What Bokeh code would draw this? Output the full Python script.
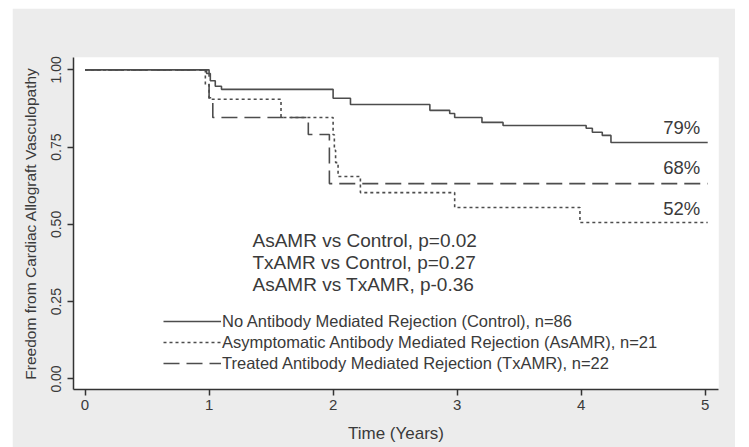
from bokeh.plotting import figure
from bokeh.models import FixedTicker, Legend, LegendItem, Range1d, Spacer
from bokeh.layouts import column, row
from bokeh.embed import file_html
from bokeh.resources import INLINE
from bokeh.core.properties import value

# ---------------- data ----------------
x_ticks = [0, 1, 2, 3, 4, 5]
y_ticks = [0.0, 0.25, 0.5, 0.75, 1.0]
y_tick_labels = ["0.00", "0.25", "0.50", "0.75", "1.00"]

control_t = [0, 0.98, 1.01, 1.05, 1.10, 2.00, 2.14, 2.78, 2.94, 2.98, 3.20, 3.37, 4.04, 4.09, 4.17, 4.24, 5.02]
control_s = [1.0, 0.988, 0.965, 0.947, 0.937, 0.908, 0.888, 0.869, 0.859, 0.846, 0.830, 0.820, 0.811, 0.798, 0.788, 0.765, 0.765]

asamr_t = [0, 0.97, 1.00, 1.58, 2.00, 2.01, 2.02, 2.04, 2.22, 2.98, 3.99, 5.02]
asamr_s = [1.0, 0.952, 0.905, 0.846, 0.790, 0.740, 0.700, 0.655, 0.603, 0.555, 0.506, 0.506]

txamr_t = [0, 1.00, 1.03, 1.80, 1.97, 5.02]
txamr_s = [1.0, 0.910, 0.846, 0.791, 0.632, 0.632]

legend_labels = [
    "No Antibody Mediated Rejection (Control), n=86",
    "Asymptomatic Antibody Mediated Rejection (AsAMR), n=21",
    "Treated Antibody Mediated Rejection (TxAMR), n=22",
]
pvalue_texts = [
    "AsAMR vs Control, p=0.02",
    "TxAMR vs Control, p=0.27",
    "AsAMR vs TxAMR, p-0.36",
]
final_pct_labels = ["79%", "68%", "52%"]

# ---------------- layout constants ----------------
pvalue_x = [1.35, 1.35, 1.35]
pvalue_y = [0.447, 0.376, 0.305]
pct_x = [4.96, 4.96, 4.96]
pct_y = [0.813, 0.683, 0.550]

INK = "#3a3a3a"
LINE = "#4d4d4d"
BG = "#ececec"
FONT = "Liberation Sans"

p = figure(width=723, height=439, output_backend="svg", toolbar_location=None,
           x_range=Range1d(-0.093, 5.107), y_range=Range1d(-0.034, 1.040),
           min_border_left=61, min_border_top=49, min_border_right=17, min_border_bottom=58)
p.border_fill_color = BG
p.background_fill_color = "white"
p.outline_line_color = None
p.grid.visible = False

# curves
r_ctrl = p.step(control_t, control_s, mode="after", line_color=LINE, line_width=1.6)
r_as = p.step(asamr_t, asamr_s, mode="after", line_color=LINE, line_width=1.6, line_dash="3 3")
r_tx = p.step(txamr_t, txamr_s, mode="after", line_color=LINE, line_width=1.6, line_dash="16 7")

# texts
p.text(x=pvalue_x, y=pvalue_y, text=pvalue_texts, text_font=value(FONT), text_font_size="19px",
       text_color=INK, text_baseline="middle", text_align="left")
p.text(x=pct_x, y=pct_y, text=final_pct_labels, text_font=value(FONT), text_font_size="18.5px",
       text_color=INK, text_baseline="middle", text_align="right")

legend = Legend(items=[LegendItem(label=legend_labels[0], renderers=[r_ctrl]),
                       LegendItem(label=legend_labels[1], renderers=[r_as]),
                       LegendItem(label=legend_labels[2], renderers=[r_tx])],
                location=(90, 16), orientation="vertical",
                glyph_width=58, glyph_height=20, label_height=20, spacing=1,
                label_standoff=1, padding=0, margin=0,
                border_line_color=None, background_fill_alpha=0,
                label_text_font=FONT, label_text_font_size="16.5px", label_text_color=INK)
p.add_layout(legend, "center")

# axes
for ax in (p.xaxis[0], p.yaxis[0]):
    ax.axis_line_color = "#333333"
    ax.axis_line_width = 1.5
    ax.major_tick_line_color = "#333333"
    ax.major_tick_line_width = 1.5
    ax.major_tick_out = 6
    ax.major_tick_in = 0
    ax.minor_tick_line_color = None
    ax.major_label_text_font = FONT
    ax.major_label_text_color = INK
    ax.axis_label_text_font = FONT
    ax.axis_label_text_color = INK
    ax.axis_label_text_font_style = "normal"

p.xaxis.ticker = FixedTicker(ticks=x_ticks)
p.xaxis.major_label_text_font_size = "15px"
p.xaxis.major_label_standoff = 4
p.xaxis.axis_label = "Time (Years)"
p.xaxis.axis_label_text_font_size = "17px"
p.xaxis.axis_label_standoff = 11

p.yaxis.ticker = FixedTicker(ticks=y_ticks)
p.yaxis.major_label_overrides = {t: l for t, l in zip(y_ticks, y_tick_labels)}
p.yaxis.major_label_orientation = "vertical"
p.yaxis.major_label_text_font_size = "14px"
p.yaxis.major_label_standoff = 6
p.yaxis.axis_label = "Freedom from Cardiac Allograft Vasculopathy"
p.yaxis.axis_label_text_font_size = "15.5px"
p.yaxis.axis_label_standoff = 10

page = column(Spacer(height=8), row(Spacer(width=12), p))
open("out.html", "w").write(file_html(page, INLINE))
